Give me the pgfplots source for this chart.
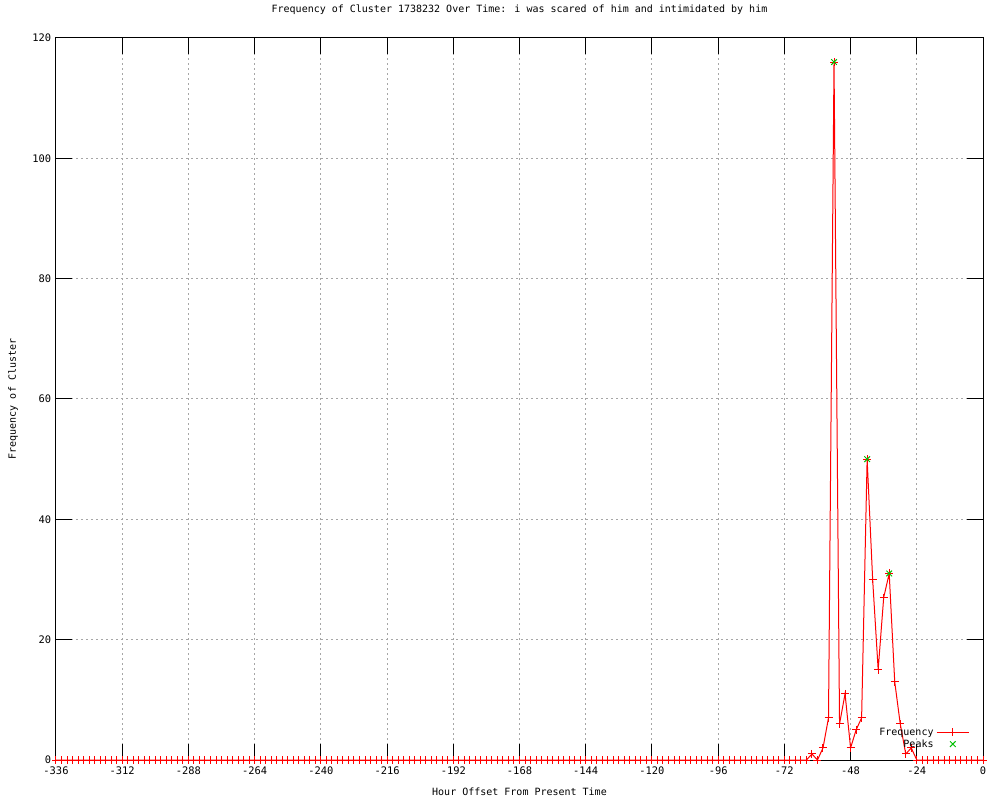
\documentclass[border=0pt]{standalone}
\usepackage{pgfplots}
\pgfplotsset{compat=1.18}
\usepackage{fontspec}
\setmainfont{DejaVu Sans Mono}
\pgfplotsset{
  linelegend/.style={legend image code/.code={\draw[##1] (0cm,0cm) -- (0.85cm,0cm); \draw[##1] plot coordinates {(0.425cm,0cm)};}},
  marklegend/.style={legend image code/.code={\draw[##1] plot coordinates {(0.425cm,0cm)};}},
}
\begin{document}
\fontsize{7.5}{9}\selectfont
\begin{tikzpicture}
\useasboundingbox (0,0) rectangle (750pt,600pt);
\begin{axis}[
  at={(42pt,30pt)}, anchor=south west,
  scale only axis, width=695.25pt, height=541.5pt,
  xmin=-336, xmax=0, ymin=0, ymax=120,
  xtick={-336,-312,...,0}, ytick={0,20,...,120},
  /pgf/number format/assume math mode=true,
  tick label style={font=\fontsize{7.8}{9}\selectfont},
  xticklabel style={yshift=-2.5pt},
  yticklabel style={xshift=-1pt},
  major tick length=12pt,
  tick style={black, line width=0.75pt},
  tick align=inside,
  axis line style={black, line width=0.75pt},
  grid=major,
  major grid style={gray!70, line width=0.75pt, dash pattern=on 1.5pt off 2.25pt},
  title={Frequency of Cluster 1738232 Over Time: i was scared of him and intimidated by him},
  title style={at={(axis description cs:0.5,1.0277)}, anchor=center, font=\fontsize{7.5}{9}\selectfont},
  xlabel={Hour Offset From Present Time},
  xlabel style={at={(axis description cs:0.5,-0.0443)}, anchor=center, font=\fontsize{7.5}{9}\selectfont},
  ylabel={Frequency of Cluster},
  ylabel style={at={(axis description cs:-0.0464,0.5)}, anchor=center, font=\fontsize{7.5}{9}\selectfont},
  legend plot pos=right,
  legend cell align=right,
  legend style={at={(axis description cs:0.990,0.008)}, anchor=south east, draw=none, fill=none,
    font=\fontsize{7.5}{9}\selectfont, row sep=-2pt},
]
\addplot[red, line width=0.75pt, mark=+, mark size=3pt, mark options={line width=0.75pt}, linelegend] coordinates {
(-336,0)(-334,0)(-332,0)(-330,0)(-328,0)(-326,0)(-324,0)(-322,0)(-320,0)(-318,0)
(-316,0)(-314,0)(-312,0)(-310,0)(-308,0)(-306,0)(-304,0)(-302,0)(-300,0)(-298,0)
(-296,0)(-294,0)(-292,0)(-290,0)(-288,0)(-286,0)(-284,0)(-282,0)(-280,0)(-278,0)
(-276,0)(-274,0)(-272,0)(-270,0)(-268,0)(-266,0)(-264,0)(-262,0)(-260,0)(-258,0)
(-256,0)(-254,0)(-252,0)(-250,0)(-248,0)(-246,0)(-244,0)(-242,0)(-240,0)(-238,0)
(-236,0)(-234,0)(-232,0)(-230,0)(-228,0)(-226,0)(-224,0)(-222,0)(-220,0)(-218,0)
(-216,0)(-214,0)(-212,0)(-210,0)(-208,0)(-206,0)(-204,0)(-202,0)(-200,0)(-198,0)
(-196,0)(-194,0)(-192,0)(-190,0)(-188,0)(-186,0)(-184,0)(-182,0)(-180,0)(-178,0)
(-176,0)(-174,0)(-172,0)(-170,0)(-168,0)(-166,0)(-164,0)(-162,0)(-160,0)(-158,0)
(-156,0)(-154,0)(-152,0)(-150,0)(-148,0)(-146,0)(-144,0)(-142,0)(-140,0)(-138,0)
(-136,0)(-134,0)(-132,0)(-130,0)(-128,0)(-126,0)(-124,0)(-122,0)(-120,0)(-118,0)
(-116,0)(-114,0)(-112,0)(-110,0)(-108,0)(-106,0)(-104,0)(-102,0)(-100,0)(-98,0)
(-96,0)(-94,0)(-92,0)(-90,0)(-88,0)(-86,0)(-84,0)(-82,0)(-80,0)(-78,0)
(-76,0)(-74,0)(-72,0)(-70,0)(-68,0)(-66,0)(-64,0)
(-62,1)(-60,0)(-58,2)(-56,7)(-54,116)(-52,6)(-50,11)(-48,2)(-46,5)(-44,7)
(-42,50)(-40,30)(-38,15)(-36,27)(-34,31)(-32,13)(-30,6)(-28,1)(-26,2)
(-24,0)(-22,0)(-20,0)(-18,0)(-16,0)(-14,0)(-12,0)(-10,0)(-8,0)(-6,0)(-4,0)(-2,0)(0,0)
};
\addlegendentry{Frequency}
\addplot[only marks, green!75!black, mark=x, mark size=3pt, mark options={line width=0.75pt}, marklegend] coordinates {
(-54,116)(-42,50)(-34,31)
};
\addlegendentry{Peaks}
\end{axis}
\end{tikzpicture}
\end{document}
